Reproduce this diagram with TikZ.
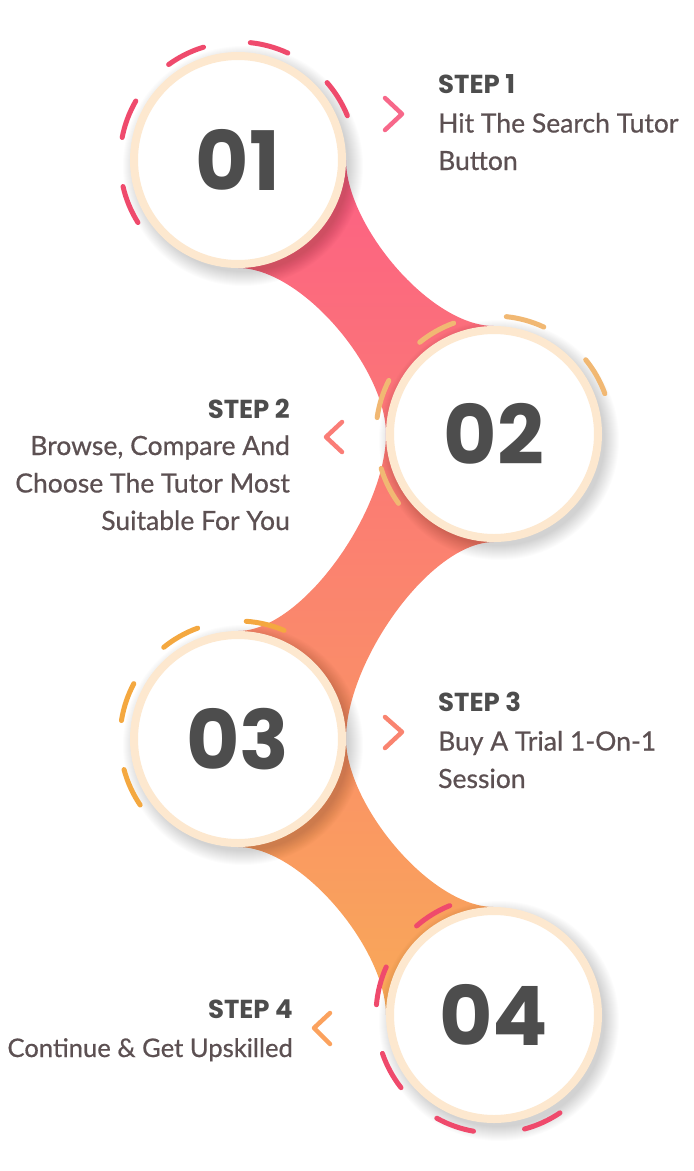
\documentclass[tikz,border=0pt]{standalone}
\usepackage{fontspec}
\setmainfont{Poppins}
\newfontfamily\bodyfont{Lato}[FakeBold=0.6]
\usetikzlibrary{calc}

\definecolor{numgray}{HTML}{4D4D4D}
\definecolor{txtbrown}{HTML}{5C5052}
\definecolor{cream}{HTML}{FDE8CF}
\definecolor{ringred}{HTML}{EF4A6C}
\definecolor{ringtan}{HTML}{F1B873}
\definecolor{ringorange}{HTML}{F4A840}
\definecolor{bandtop}{HTML}{FC6084}
\definecolor{bandmid}{HTML}{FF8577}
\definecolor{bandbot}{HTML}{F9A958}
\definecolor{chevone}{HTML}{F7688A}
\definecolor{chevtwo}{HTML}{FA7D77}
\definecolor{chevthree}{HTML}{F98470}
\definecolor{chevfour}{HTML}{FBA25E}

\pgfdeclarelayer{bandlayer}
\pgfdeclarelayer{shadowlayer}
\pgfdeclarelayer{ringlayer}
\pgfsetlayers{bandlayer,shadowlayer,ringlayer,main}

\tikzset{
  stepcircle/.style={circle, draw=cream, line width=8pt, fill=white,
    minimum size=208pt, inner sep=0pt,
    font=\fontsize{82}{82}\selectfont\bfseries, text=numgray},
  steptitle/.style={font=\fontsize{26}{30}\selectfont\bfseries,
    text=numgray, inner sep=0pt},
  stepbody/.style={font=\bodyfont\fontsize{26.5}{37.5}\selectfont,
    text=txtbrown, inner sep=0pt},
  chevron/.style={line width=4.5pt, line cap=round, line join=round},
  dashring/.style={line width=5pt, line cap=round},
}

\begin{document}
\begin{tikzpicture}[x=1pt,y=-1pt]
\useasboundingbox (0,0) rectangle (694,1171);

% step circles
\node (c1) [stepcircle] at (238,160) {01};
\node (c2) [stepcircle] at (494,434) {02};
\node (c3) [stepcircle] at (238,739) {03};
\node (c4) [stepcircle] at (494,1015) {04};

% bands between circles
\begin{pgfonlayer}{bandlayer}
\shade[top color=bandtop, middle color=bandmid, bottom color=bandbot]
  (c1.east) .. controls +(0,65) and +(-64,0) .. (c2.north) -- (c2.center)
  -- (c2.west) .. controls +(0,-65) and +(64,0) .. (c1.south) -- (c1.center) -- cycle
  (c2.south) .. controls +(-64,0) and +(0,-77) .. (c3.east) -- (c3.center)
  -- (c3.north) .. controls +(64,0) and +(0,77) .. (c2.west) -- (c2.center) -- cycle
  (c3.east) .. controls +(0,65) and +(-64,0) .. (c4.north) -- (c4.center)
  -- (c4.west) .. controls +(0,-65) and +(64,0) .. (c3.south) -- (c3.center) -- cycle;
\end{pgfonlayer}

% soft shadows
\begin{pgfonlayer}{shadowlayer}
\foreach \c in {c1,c2,c3,c4}
  \foreach \r in {106,...,120}
    \fill[black, opacity=0.011] ($(\c.center)+(5,6)$) circle[radius=\r];
\end{pgfonlayer}

% dashed rings
\begin{pgfonlayer}{ringlayer}
\foreach \a in {22,65,107,150,193}
  \draw[dashring, ringred] (c1.center) ++(-\a:118) arc[start angle=-\a, delta angle=-19, radius=118];
\foreach \a in {20,65,110,153,197}
  \draw[dashring, ringtan] (c2.center) ++(-\a:118) arc[start angle=-\a, delta angle=-19, radius=118];
\foreach \a in {67,110,152,195}
  \draw[dashring, ringorange] (c3.center) ++(-\a:118) arc[start angle=-\a, delta angle=-19, radius=118];
\foreach \a in {112,156,199,241,285}
  \draw[dashring, ringred] (c4.center) ++(-\a:118) arc[start angle=-\a, delta angle=-19, radius=118];
\end{pgfonlayer}

% texts (base anchor = last line)
\node (t1) [steptitle, anchor=base west] at (438,93) {STEP 1};
\node (b1) [stepbody, anchor=base west, align=left] at (438,170) {Hit The Search Tutor\\Button};
\node (t2) [steptitle, anchor=base east] at (290,418) {STEP 2};
\node (b2) [stepbody, anchor=base east, align=right] at (290,530) {Browse, Compare And\\Choose The Tutor Most\\Suitable For You};
\node (t3) [steptitle, anchor=base west] at (438,711) {STEP 3};
\node (b3) [stepbody, anchor=base west, align=left] at (438,788) {Buy A Trial 1-On-1\\Session};
\node (t4) [steptitle, anchor=base east] at (293,1018) {STEP 4};
\node (b4) [stepbody, anchor=base east, align=right] at (293,1057) {\fontsize{25.6}{37.5}\selectfont Continue \& Get Upskilled};

% chevrons
\draw[chevron, chevone] (385,98) -- (402,114) -- (385,130);
\draw[chevron, chevtwo] (342,422) -- (326,437) -- (342,452);
\draw[chevron, chevthree] (385,717) -- (402,732) -- (385,748);
\draw[chevron, chevfour] (330,1013) -- (314,1028) -- (330,1044);
\end{tikzpicture}
\end{document}
